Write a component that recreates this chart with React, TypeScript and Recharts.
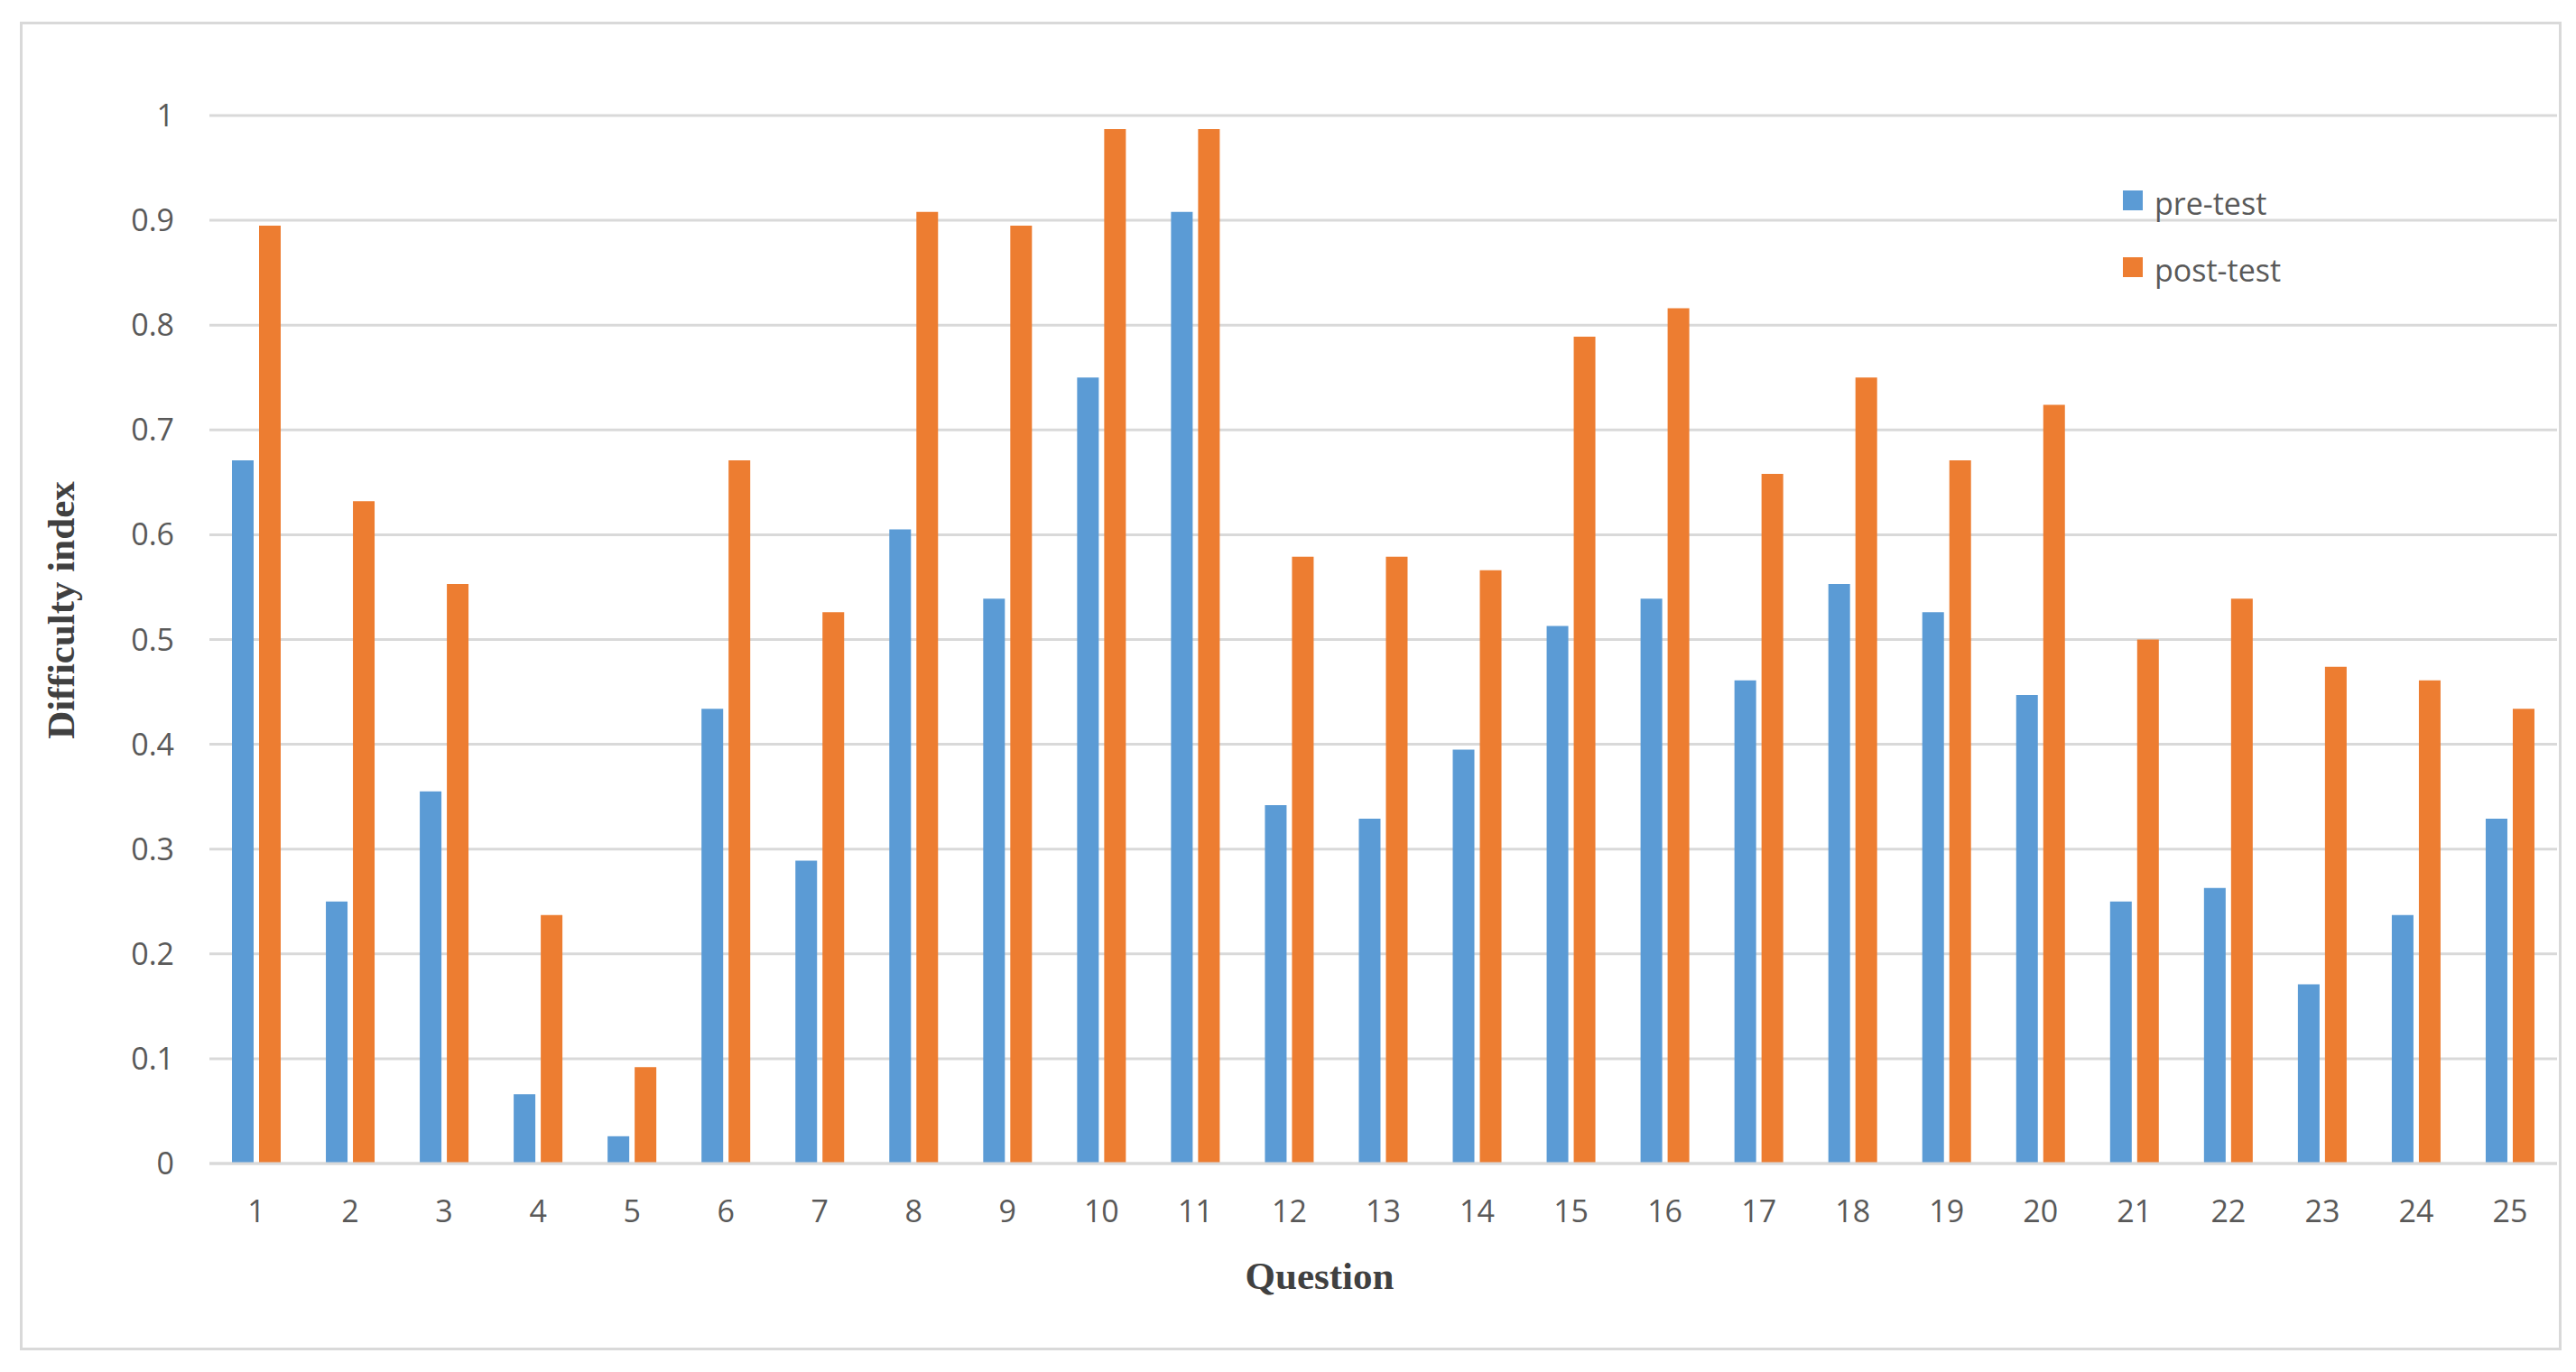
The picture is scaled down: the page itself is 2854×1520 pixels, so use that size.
import React from "react";
import {
  BarChart,
  Bar,
  XAxis,
  YAxis,
  CartesianGrid,
  Legend,
  Label,
} from "recharts";

const questions = [
  "1", "2", "3", "4", "5", "6", "7", "8", "9", "10", "11", "12", "13",
  "14", "15", "16", "17", "18", "19", "20", "21", "22", "23", "24", "25",
];

const preTest = [
  0.671, 0.25, 0.355, 0.066, 0.026, 0.434, 0.289, 0.605, 0.539, 0.75, 0.908,
  0.342, 0.329, 0.395, 0.513, 0.539, 0.461, 0.553, 0.526, 0.447, 0.25, 0.263,
  0.171, 0.237, 0.329,
];

const postTest = [
  0.895, 0.632, 0.553, 0.237, 0.092, 0.671, 0.526, 0.908, 0.895, 0.987, 0.987,
  0.579, 0.579, 0.566, 0.789, 0.816, 0.658, 0.75, 0.671, 0.724, 0.5, 0.539,
  0.474, 0.461, 0.434,
];

const yTicks = [0, 0.1, 0.2, 0.3, 0.4, 0.5, 0.6, 0.7, 0.8, 0.9, 1];

const seriesOrder = ["pre-test", "post-test"];

const BLUE = "#5B9BD5";
const ORANGE = "#ED7D31";
const GRID = "#D9D9D9";
const TEXT = "#595959";
const TICK_FONT = "'Open Sans', 'Noto Sans', sans-serif";
const TITLE_FONT = "'Liberation Serif', 'DejaVu Serif', serif";

const data = questions.map((q, i) => ({
  question: q,
  pre: preTest[i],
  post: postTest[i],
}));

function LegendBox({ payload }: any) {
  const items = [...(payload || [])].sort(
    (a: any, b: any) => seriesOrder.indexOf(a.value) - seriesOrder.indexOf(b.value)
  );
  return (
    <div style={{ fontFamily: TICK_FONT, fontSize: 34, color: TEXT }}>
      {items.map((p: any) => (
        <div
          key={p.value}
          style={{ display: "flex", alignItems: "center", height: 74 }}
        >
          <span
            style={{
              width: 22,
              height: 22,
              background: p.color,
              display: "inline-block",
              marginRight: 13,
            }}
          />
          <span style={{ position: "relative", top: 3 }}>{p.value}</span>
        </div>
      ))}
    </div>
  );
}

export default function App() {
  return (
    <div
      style={{
        position: "absolute",
        left: 0,
        top: 0,
        width: 2854,
        height: 1520,
        background: "#fff",
      }}
    >
      <div
        style={{
          position: "absolute",
          left: 22,
          top: 24,
          width: 2810,
          height: 1466,
          border: `3px solid ${GRID}`,
        }}
      />
      <div style={{ position: "absolute", left: 0, top: 0 }}>
        <BarChart
          width={2854}
          height={1520}
          data={data}
          margin={{ top: 128, right: 21, bottom: 0, left: 0 }}
          barGap={6}
          barSize={24}
        >
          <CartesianGrid
            vertical={false}
            stroke={GRID}
            strokeWidth={3}
          />
          <XAxis
            dataKey="question"
            height={231}
            tickLine={false}
            tickSize={0}
            tickMargin={41}
            axisLine={{ stroke: GRID, strokeWidth: 3 }}
            tick={{ fill: TEXT, fontSize: 34, fontFamily: TICK_FONT }}
            interval={0}
          >
            <Label
              content={() => (
                <text
                  x={1462}
                  y={1428}
                  textAnchor="middle"
                  fontFamily={TITLE_FONT}
                  fontWeight="bold"
                  fontSize={43}
                  fill="#404040"
                >
                  Question
                </text>
              )}
            />
          </XAxis>
          <YAxis
            width={232}
            domain={[0, 1]}
            ticks={yTicks}
            interval={0}
            axisLine={false}
            tickLine={false}
            tickSize={0}
            tickMargin={39}
            tick={{ fill: TEXT, fontSize: 34, fontFamily: TICK_FONT }}
          >
            <Label
              content={() => (
                <text
                  x={82}
                  y={676}
                  transform="rotate(-90 82 676)"
                  textAnchor="middle"
                  fontFamily={TITLE_FONT}
                  fontWeight="bold"
                  fontSize={43}
                  fill="#404040"
                >
                  Difficulty index
                </text>
              )}
            />
          </YAxis>
          <Legend
            layout="vertical"
            align="center"
            verticalAlign="middle"
            content={<LegendBox />}
            wrapperStyle={{ position: "absolute", left: 2352, top: 185, width: 300 }}
          />
          <Bar
            dataKey="pre"
            name="pre-test"
            fill={BLUE}
            isAnimationActive={false}
          />
          <Bar
            dataKey="post"
            name="post-test"
            fill={ORANGE}
            isAnimationActive={false}
          />
        </BarChart>
      </div>
    </div>
  );
}
